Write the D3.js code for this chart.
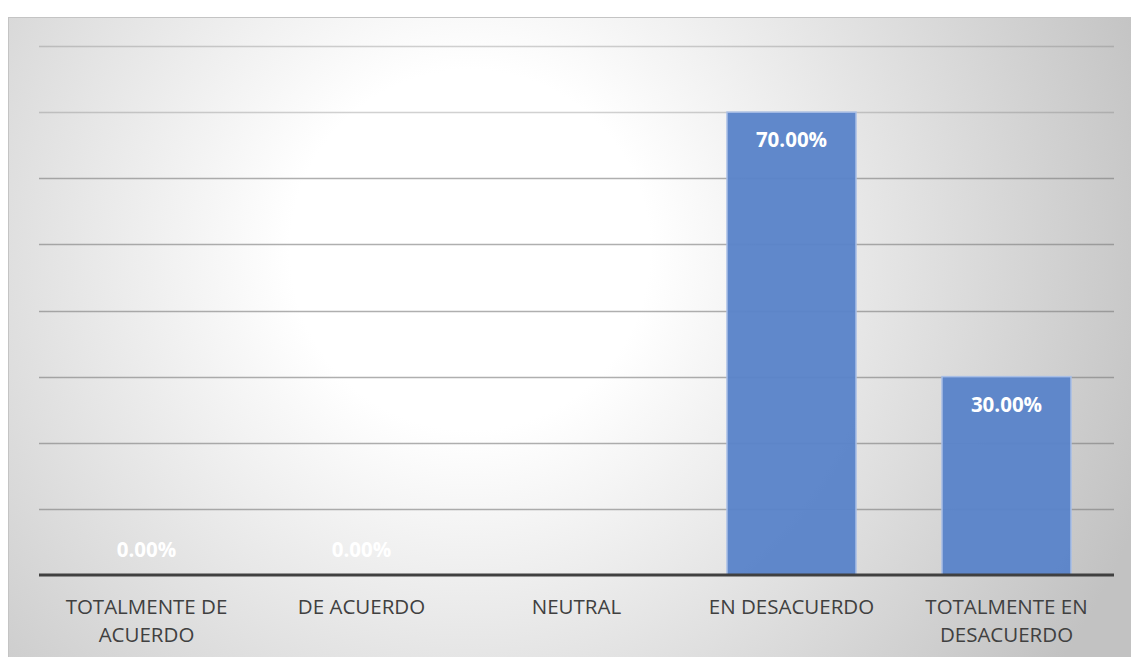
<!DOCTYPE html>
<html>
<head>
<meta charset="utf-8">
<script src="https://cdn.jsdelivr.net/npm/d3@7"></script>
<style>
  html, body { margin: 0; padding: 0; background: #fff; }
  svg { display: block; }
</style>
</head>
<body>
<div id="chart"></div>
<script>
// chart data
const categories = [
    ['TOTALMENTE DE', 'ACUERDO'],
    ['DE ACUERDO'],
    ['NEUTRAL'],
    ['EN DESACUERDO'],
    ['TOTALMENTE EN', 'DESACUERDO']
];
const values = [0, 0, null, 0.70, 0.30];
const gridTicks = [0.1, 0.2, 0.3, 0.4, 0.5, 0.6, 0.7, 0.8];

const width = 1131, height = 657;
const svg = d3.select('#chart').append('svg')
    .attr('width', width)
    .attr('height', height);

// radial background like the office chart style
const defs = svg.append('defs');
const grad = defs.append('radialGradient')
    .attr('id', 'bg')
    .attr('gradientUnits', 'userSpaceOnUse')
    .attr('cx', 470).attr('cy', 250).attr('r', 720);
grad.append('stop').attr('offset', '0%').attr('stop-color', '#ffffff');
grad.append('stop').attr('offset', '25%').attr('stop-color', '#ffffff');
grad.append('stop').attr('offset', '100%').attr('stop-color', '#c2c2c2');

svg.append('rect')
    .attr('x', 8.5).attr('y', 17.5)
    .attr('width', width).attr('height', height)
    .attr('fill', 'url(#bg)')
    .attr('stroke', '#c4c4c4')
    .attr('stroke-width', 1);

const plot = { left: 39, right: 1114, top: 46, bottom: 575 };

const x = d3.scaleBand()
    .domain(d3.range(categories.length))
    .range([plot.left, plot.right])
    .paddingInner(0.4)
    .paddingOuter(0.2);

const y = d3.scaleLinear()
    .domain([0, 0.8])
    .range([plot.bottom, plot.top]);

// gridlines
svg.append('g')
    .selectAll('line')
    .data(gridTicks)
    .join('line')
    .attr('x1', plot.left).attr('x2', plot.right)
    .attr('y1', d => Math.round(y(d)) + 0.5)
    .attr('y2', d => Math.round(y(d)) + 0.5)
    .attr('stroke', '#7a7a7a')
    .attr('stroke-opacity', d => d >= 0.7 ? 0.35 : 0.6)
    .attr('stroke-width', 1.3);

// bars
svg.append('g')
    .selectAll('rect')
    .data(values.map((v, i) => ({ v, i })).filter(d => d.v))
    .join('rect')
    .attr('x', d => x(d.i))
    .attr('y', d => y(d.v))
    .attr('width', x.bandwidth())
    .attr('height', d => y(0) - y(d.v))
    .attr('fill', '#5b84c9')
    .attr('fill-opacity', 0.97)
    .attr('stroke', '#a9bfe6')
    .attr('stroke-width', 1.5);

// baseline
svg.append('line')
    .attr('x1', plot.left).attr('x2', plot.right)
    .attr('y1', y(0)).attr('y2', y(0))
    .attr('stroke', '#404040')
    .attr('stroke-width', 3);

// data labels (inside end)
svg.append('g')
    .selectAll('text')
    .data(values.map((v, i) => ({ v, i })).filter(d => d.v !== null))
    .join('text')
    .attr('x', d => x(d.i) + x.bandwidth() / 2)
    .attr('y', d => d.v > 0 ? y(d.v) + 35 : y(0) - 18)
    .attr('text-anchor', 'middle')
    .attr('font-family', 'Open Sans, sans-serif')
    .attr('font-weight', 'bold')
    .attr('font-size', 20.5)
    .attr('fill', '#ffffff')
    .text(d => d3.format('.2%')(d.v));

// category labels
const xAxis = svg.append('g');
categories.forEach((lines, i) => {
    const t = xAxis.append('text')
        .attr('x', x(i) + x.bandwidth() / 2)
        .attr('y', 614)
        .attr('text-anchor', 'middle')
        .attr('font-family', 'Open Sans, sans-serif')
        .attr('font-size', 20.5)
        .attr('fill', '#404040');
    lines.forEach((ln, j) => {
        t.append('tspan')
            .attr('x', x(i) + x.bandwidth() / 2)
            .attr('dy', j === 0 ? 0 : 28)
            .text(ln);
    });
});
</script>
</body>
</html>
